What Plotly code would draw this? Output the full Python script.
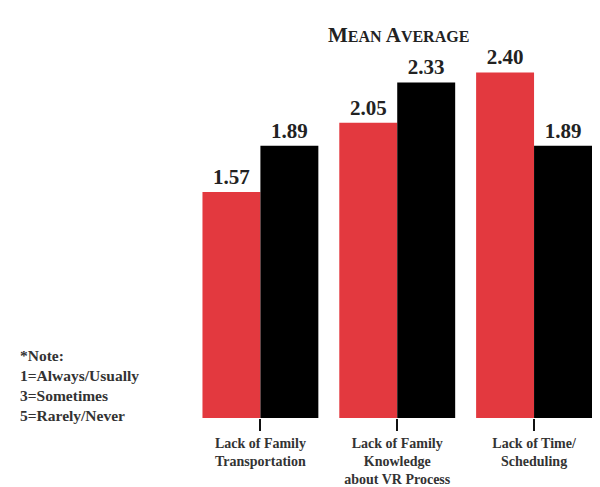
import plotly.graph_objects as go

categories = ["Lack of Family<br>Transportation",
              "Lack of Family<br>Knowledge<br>about VR Process",
              "Lack of Time/<br>Scheduling"]
series_red = [1.57, 2.05, 2.40]
series_black = [1.89, 2.33, 1.89]
red_color = "#E3393F"
black_color = "#000000"

font_family = "Liberation Serif"

ML, MB, W, H = 191.5, 69, 600, 487
PW, PH = W - ML, H - MB


def px_x(px):
    return (px - ML) / PW


def px_y(py):
    return (PH - py) / PH


fig = go.Figure()
for vals, col in [(series_red, red_color), (series_black, black_color)]:
    fig.add_trace(go.Bar(x=categories, y=vals, marker_color=col,
                         marker_line_width=0,
                         text=[f"<b>{v:.2f}</b>" for v in vals], textposition="outside",
                         textfont=dict(family=font_family, size=21, color="#222"),
                         cliponaxis=False, showlegend=False))

fig.update_layout(
    width=W, height=H,
    margin=dict(l=ML, r=0, t=0, b=MB),
    barmode="group", bargap=0.153, bargroupgap=0,
    plot_bgcolor="white", paper_bgcolor="white",
    font=dict(family=font_family, color="#333"),
    xaxis=dict(type="category", range=[-0.5, 2.482], showline=False, showgrid=False,
               ticks="outside", ticklen=12, tickwidth=2, tickcolor="#111",
               tickfont=dict(family=font_family, size=14, color="#333", weight="bold"),
               zeroline=False),
    yaxis=dict(range=[0, PH / 144], visible=False),
    annotations=[
        dict(text="<b>M<span style='font-size:16px'>EAN</span> A<span style='font-size:16px'>VERAGE</span></b>",
             x=px_x(398), y=px_y(21), xref="paper", yref="paper", showarrow=False,
             font=dict(family=font_family, size=21, color="#222")),
        dict(text="<b>*Note:<br>1=Always/Usually<br>3=Sometimes<br>5=Rarely/Never</b>",
             x=px_x(17), y=px_y(345), xref="paper", yref="paper",
             xanchor="left", yanchor="top", align="left", showarrow=False,
             font=dict(family=font_family, size=15.5, color="#333")),
    ],
)

fig.write_html("out.html")
